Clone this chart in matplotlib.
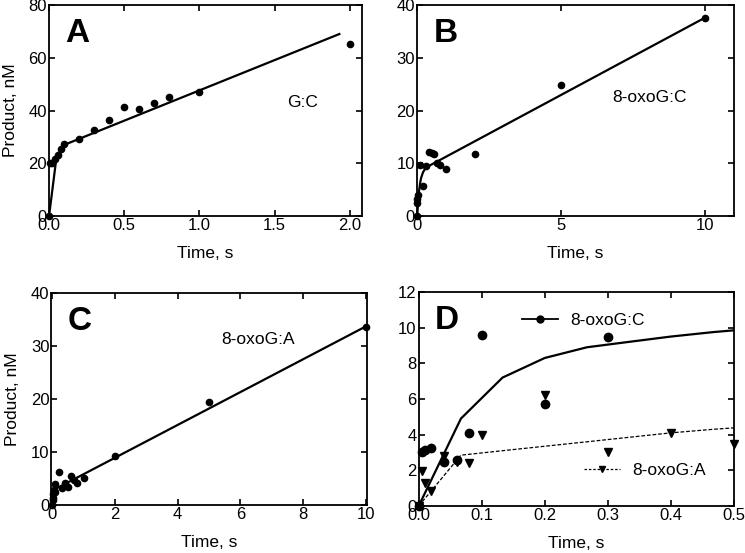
import matplotlib
matplotlib.use("Agg")
import matplotlib.pyplot as plt
from matplotlib.lines import Line2D

plt.rcParams['font.family'] = ['Liberation Sans', 'DejaVu Sans']

# Panel A: G:C
a_t = [0, 0.005, 0.02, 0.04, 0.06, 0.08, 0.1, 0.2, 0.3, 0.4, 0.5, 0.6, 0.7, 0.8, 1.0, 2.0]
a_y = [0, 20.2, 20.0, 21.6, 23.1, 25.6, 27.5, 29.4, 32.8, 36.4, 41.4, 40.5, 42.9, 45.2, 47.1, 65.4]
a_fit_t = [0, 0.05, 0.1, 1.93]
a_fit_y = [0, 22.5, 27.0, 69.0]

# Panel B: 8-oxoG:C
b_t = [0, 0.005, 0.01, 0.02, 0.1, 0.2, 0.3, 0.4, 0.5, 0.6, 0.7, 0.8, 1.0, 2.0, 5.0, 10.0]
b_y = [0, 3.2, 2.5, 4.1, 9.7, 5.7, 9.5, 12.2, 12.0, 11.8, 10.0, 9.7, 9.0, 11.7, 24.8, 37.6]
b_fit_t = [0, 0.033, 0.067, 0.1, 0.133, 0.2, 0.267, 0.333, 0.4, 0.5, 10.0]
b_fit_y = [0, 2.8, 4.9, 6.2, 7.2, 8.3, 8.9, 9.2, 9.5, 9.8, 37.6]

# Panel C: 8-oxoG:A
c_t = [0, 0.005, 0.01, 0.02, 0.04, 0.06, 0.08, 0.1, 0.2, 0.3, 0.4, 0.5, 0.6, 0.7, 0.8, 1.0, 2.0, 5.0, 10.0]
c_y = [0, 1.9, 1.3, 0.8, 2.8, 2.5, 2.4, 3.9, 6.2, 3.1, 4.1, 3.4, 5.4, 4.7, 4.1, 5.0, 9.2, 19.4, 33.6]
c_fit_t = [0, 0.067, 10.0]
c_fit_y = [0, 2.85, 33.7]

# Panel D: early time points, both substrates
d_t = [0, 0.005, 0.01, 0.02, 0.04, 0.06, 0.08, 0.1, 0.2, 0.3]
d_c = [0, 3.04, 3.13, 3.23, 2.48, 2.56, 4.1, 9.6, 5.7, 9.45]
d_t2 = [0, 0.005, 0.01, 0.02, 0.04, 0.06, 0.08, 0.1, 0.2, 0.3, 0.4, 0.5]
d_a = [0, 1.96, 1.3, 0.84, 2.8, 2.48, 2.43, 3.96, 6.2, 3.0, 4.07, 3.45]
d_fit_t = [0, 0.067, 0.133, 0.2, 0.267, 0.333, 0.4, 0.467, 0.5]
d_fit_c = [0, 4.9, 7.2, 8.3, 8.9, 9.2, 9.5, 9.75, 9.85]
d_fit_a = [0, 2.85, 3.1, 3.35, 3.6, 3.85, 4.1, 4.3, 4.38]

fig = plt.figure(figsize=(7.45, 5.53), dpi=100)
axA = fig.add_axes([0.0658, 0.609, 0.420, 0.382])
axB = fig.add_axes([0.560, 0.609, 0.425, 0.382])
axC = fig.add_axes([0.069, 0.0877, 0.423, 0.382])
axD = fig.add_axes([0.562, 0.085, 0.423, 0.387])

for ax in [axA, axB, axC, axD]:
    ax.tick_params(direction='in', top=True, right=True, length=4, width=1.2, labelsize=12, pad=1.5)
    for s in ax.spines.values():
        s.set_linewidth(1.3)

ms = 4.5
axA.plot(a_fit_t, a_fit_y, color='black', lw=1.6)
axA.plot(a_t, a_y, 'o', color='black', ms=ms, clip_on=False)
axA.set_xlim(0, 2.08)
axA.set_ylim(0, 80)
axA.set_xticks([0, 0.5, 1.0, 1.5, 2.0])
axA.set_xticklabels(['0.0', '0.5', '1.0', '1.5', '2.0'])
axA.set_yticks([0, 20, 40, 60, 80])
axA.set_xlabel('Time, s', fontsize=12.5)
axA.xaxis.set_label_coords(0.5, -0.14)
axA.set_ylabel('Product, nM', fontsize=12.5)
axA.yaxis.set_label_coords(-0.098, 0.5)
axA.text(0.051, 0.826, 'A', transform=axA.transAxes, fontsize=24, fontweight='bold')
axA.text(0.76, 0.518, 'G:C', transform=axA.transAxes, fontsize=12.5)

axB.plot(b_fit_t, b_fit_y, color='black', lw=1.6)
axB.plot(b_t, b_y, 'o', color='black', ms=ms, clip_on=False)
axB.set_xlim(0, 11)
axB.set_ylim(0, 40)
axB.set_xticks([0, 5, 10])
axB.set_yticks([0, 10, 20, 30, 40])
axB.set_xlabel('Time, s', fontsize=12.5)
axB.xaxis.set_label_coords(0.5, -0.14)
axB.text(0.051, 0.826, 'B', transform=axB.transAxes, fontsize=24, fontweight='bold')
axB.text(0.615, 0.542, '8-oxoG:C', transform=axB.transAxes, fontsize=12.5)

axC.plot(c_fit_t, c_fit_y, color='black', lw=1.6)
axC.plot(c_t, c_y, 'o', color='black', ms=ms, clip_on=False)
axC.set_xlim(-0.03, 10.03)
axC.set_ylim(0, 40)
axC.set_xticks([0, 2, 4, 6, 8, 10])
axC.set_yticks([0, 10, 20, 30, 40])
axC.set_xlabel('Time, s', fontsize=12.5)
axC.xaxis.set_label_coords(0.5, -0.145)
axC.set_ylabel('Product, nM', fontsize=12.5)
axC.yaxis.set_label_coords(-0.1, 0.5)
axC.text(0.051, 0.826, 'C', transform=axC.transAxes, fontsize=24, fontweight='bold')
axC.text(0.54, 0.758, '8-oxoG:A', transform=axC.transAxes, fontsize=12.5)

axD.plot(d_fit_t, d_fit_c, color='black', lw=1.6)
axD.plot(d_fit_t, d_fit_a, color='black', lw=0.9, ls=(0, (3, 1.5)))
axD.plot(d_t, d_c, 'o', color='black', ms=6, clip_on=False)
axD.plot(d_t2, d_a, 'v', color='black', ms=6, clip_on=False)
axD.set_xlim(0, 0.5)
axD.set_ylim(0, 12)
axD.set_xticks([0, 0.1, 0.2, 0.3, 0.4, 0.5])
axD.set_xticklabels(['0.0', '0.1', '0.2', '0.3', '0.4', '0.5'])
axD.set_yticks([0, 2, 4, 6, 8, 10, 12])
axD.set_xlabel('Time, s', fontsize=12.5)
axD.xaxis.set_label_coords(0.5, -0.14)
axD.text(0.051, 0.826, 'D', transform=axD.transAxes, fontsize=24, fontweight='bold')

h1 = Line2D([], [], color='black', lw=1.3, marker='o', ms=5)
h2 = Line2D([], [], color='black', lw=0.9, ls=(0, (2, 1.5)), marker='v', ms=5)
leg1 = axD.legend([h1], ['8-oxoG:C'], loc='center left', bbox_to_anchor=(0.327, 0.868),
                  frameon=False, fontsize=12.5, borderpad=0, borderaxespad=0,
                  handlelength=2.1, handletextpad=0.7)
axD.add_artist(leg1)
axD.legend([h2], ['8-oxoG:A'], loc='center left', bbox_to_anchor=(0.524, 0.168),
           frameon=False, fontsize=12.5, borderpad=0, borderaxespad=0,
           handlelength=2.1, handletextpad=0.7)

fig.savefig('out.png', dpi=100)
